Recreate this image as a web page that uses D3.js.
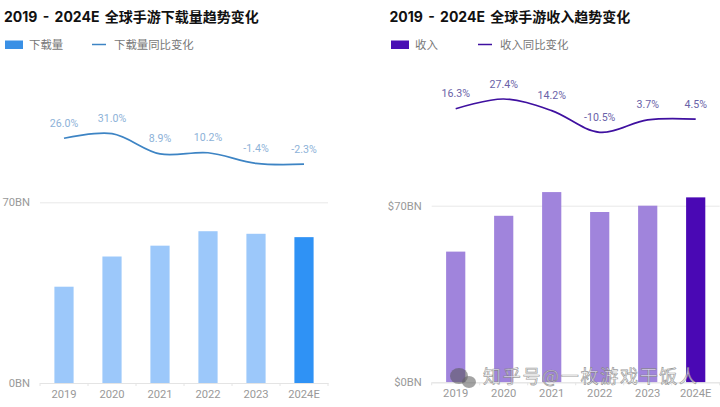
<!DOCTYPE html>
<html><head><meta charset="utf-8">
<script src="https://cdn.jsdelivr.net/npm/d3@7/dist/d3.min.js"></script>
<style>html,body{margin:0;padding:0;background:#fff}svg{display:block}
text{font-family:"Noto Sans CJK SC","Noto Sans",sans-serif}
.num text,text.num{font-family:Roboto,"Noto Sans",sans-serif}</style></head>
<body><svg id="c" width="720" height="407"></svg>
<script>
const years = ["2019","2020","2021","2022","2023","2024E"];
const downloads = [37.3,49,53.2,58.8,57.8,56.5];
const downloadYoY = [26.0,31.0,8.9,10.2,-1.4,-2.3];
const revenue = [51.8,66,75.4,67.5,70,73.3];
const revenueYoY = [16.3,27.4,14.2,-10.5,3.7,4.5];
const revenueTicks = [0,70];

const svg = d3.select("#c");

function panel(o){
  const g = svg.append("g");
  g.append("text").attr("x",o.titleX).attr("y",22).attr("font-size",14).attr("font-weight",700).attr("fill","#111")
    .attr("word-spacing",2).style("font-family",'Inter,"Noto Sans CJK SC",sans-serif').text(o.title);
  g.append("rect").attr("x",o.legX).attr("y",40.5).attr("width",18).attr("height",8.5).attr("fill",o.legCol);
  g.append("text").attr("x",o.legX+24).attr("y",48.5).attr("font-size",11.4).attr("fill","#777").text(o.barName);
  g.append("line").attr("x1",o.legX+87).attr("x2",o.legX+101).attr("y1",44.5).attr("y2",44.5).attr("stroke",o.lineCol).attr("stroke-width",1.5);
  g.append("text").attr("x",o.legX+109).attr("y",48.5).attr("font-size",11.4).attr("fill","#777").text(o.lineName);

  const x = d3.scaleBand().domain(years).range(o.xr).paddingInner(0.6).paddingOuter(0.3);
  const cx = d => x(d)+x.bandwidth()/2;
  const y = d3.scaleLinear().domain([0,70]).range(o.yr);
  const ly = d3.scaleLinear().domain(o.lineDom).range(o.lineRange);

  const gy = g.append("g").attr("class","num").attr("transform",`translate(${o.xr[0]},0)`)
    .call(d3.axisLeft(y).tickValues(revenueTicks).tickSize(-(o.xr[1]-o.xr[0])).tickPadding(o.pad).tickFormat(o.fmt));
  gy.select(".domain").remove();
  gy.selectAll(".tick line").attr("stroke","#e8e8e8");
  gy.selectAll("text").attr("font-size",11.2).attr("fill","#999");

  g.selectAll(".b").data(o.bars).join("rect").attr("x",(d,i)=>x(years[i])).attr("y",d=>y(d))
    .attr("width",x.bandwidth()).attr("height",d=>y(0)-y(d))
    .attr("fill",(d,i)=>i===5?o.dark:o.light).attr("opacity",(d,i)=>i===5?1:0.97);

  const step = x.step();
  const gx = g.append("g").attr("class","num").attr("transform",`translate(0,${o.yr[0]})`)
    .call(d3.axisBottom(x).tickSize(0).tickPadding(7));
  gx.select(".domain").attr("stroke","#e4e4e4");
  gx.selectAll("text").attr("font-size",11.2).attr("fill","#999");
  g.selectAll(".t").data(d3.range(7)).join("line")
    .attr("x1",i=>o.xr[0]+i*step).attr("x2",i=>o.xr[0]+i*step)
    .attr("y1",o.yr[0]).attr("y2",o.yr[0]+3).attr("stroke","#e4e4e4");

  const line = d3.line().x((d,i)=>cx(years[i])).y(d=>ly(d)).curve(d3.curveCatmullRom.alpha(0.5));
  g.append("path").datum(o.line).attr("d",line).attr("fill","none").attr("stroke",o.lineCol).attr("stroke-width",1.7);
  g.selectAll(".l").data(o.line).join("text").attr("class","num").attr("x",(d,i)=>cx(years[i])).attr("y",d=>ly(d)-11.5)
    .attr("text-anchor","middle").attr("font-size",10.6).attr("fill",o.labCol).text(d=>d.toFixed(1)+"%");
}

panel({titleX:4,title:"2019 - 2024E 全球手游下载量趋势变化",legX:5,barName:"下载量",lineName:"下载量同比变化",
  dark:"#2f92f5",legCol:"#3a90e5",light:"#99c6fa",lineCol:"#3d84c4",labCol:"#8db2d8",
  xr:[40,328],yr:[383,202.3],bars:downloads,line:downloadYoY,lineDom:[-2.3,31],lineRange:[164.2,133.7],
  fmt:d=>d+"BN",pad:10});
panel({titleX:389.5,title:"2019 - 2024E 全球手游收入趋势变化",legX:391,barName:"收入",lineName:"收入同比变化",
  dark:"#4a08b4",legCol:"#4a0fb4",light:"#9d80db",lineCol:"#3f10a0",labCol:"#6a62a8",
  xr:[431.7,719.7],yr:[382.3,205.7],bars:revenue,line:revenueYoY,lineDom:[-10.5,27.4],lineRange:[132.3,99],
  fmt:d=>"$"+d+"BN",pad:10});

// watermark
const wm = svg.append("g");
wm.append("ellipse").attr("cx",459).attr("cy",376).attr("rx",9).attr("ry",8).attr("fill","#555").attr("opacity",.55);
wm.append("ellipse").attr("cx",469).attr("cy",382).attr("rx",7).attr("ry",6).attr("fill","#666").attr("opacity",.6);
wm.append("text").attr("x",483).attr("y",383).attr("font-size",18).attr("letter-spacing",1.7).attr("fill","#fff").attr("fill-opacity",.65)
  .attr("stroke","#777").attr("stroke-opacity",.75).attr("stroke-width",.7).text("知乎号@一枚游戏干饭人");
</script></body></html>
